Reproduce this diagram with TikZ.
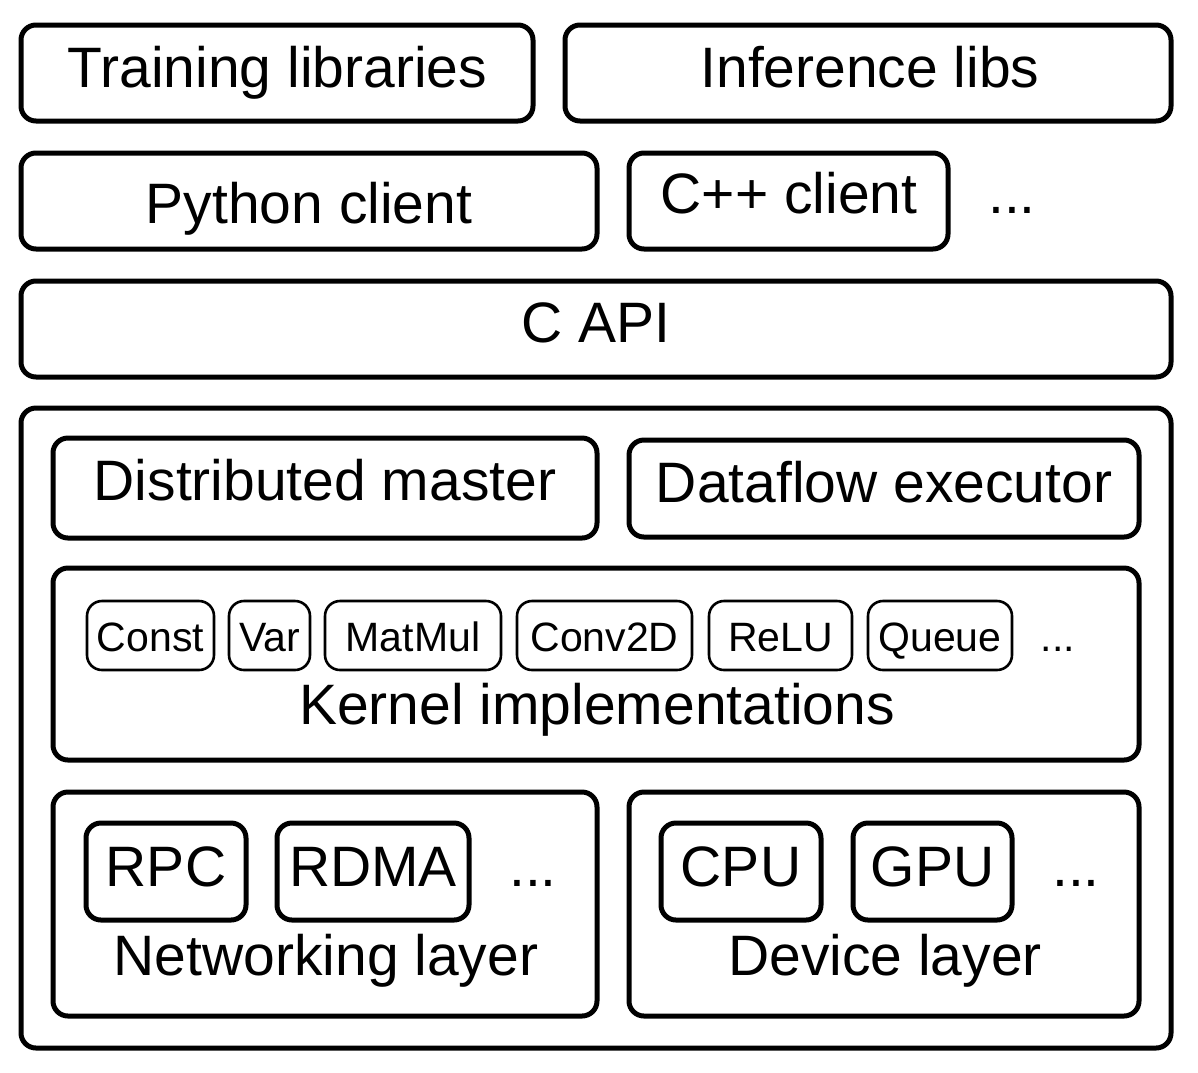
\documentclass[tikz,border=0pt]{standalone}
\usepackage{fontspec}
\setmainfont{Liberation Sans}
\begin{document}
\begin{tikzpicture}[x=1pt,y=-1pt,
  bx/.style={draw=black,line width=5pt,rounded corners=15pt,rectangle,inner sep=0pt,outer sep=0pt},
  kbx/.style={draw=black,line width=2.6pt,rounded corners=15pt,rectangle,inner sep=0pt,outer sep=0pt,minimum height=69pt},
  big/.style={anchor=base,inner sep=0pt,font=\fontsize{57}{68}\selectfont},
  small/.style={anchor=base,inner sep=0pt,font=\fontsize{41}{49}\selectfont}]
\useasboundingbox[fill=white] (0,0) rectangle (1198,1072);
% top rows
\node[bx,minimum width=512pt,minimum height=96pt] (train) at (277,73) {};
\node[bx,minimum width=606pt,minimum height=96pt] (infer) at (868,73) {};
\node[bx,minimum width=576pt,minimum height=96pt] (python) at (309,201) {};
\node[bx,minimum width=319pt,minimum height=96pt] (cpp) at (788.5,201) {};
\node[bx,minimum width=1150pt,minimum height=96pt] (capi) at (596,329) {};
\node[big] (ttrain) at (277.5,87) {Training libraries};
\node[big] (tinfer) at (870,87) {Inference libs};
\node[big] (tpython) at (309,223) {Python client};
\node[big] (tcpp) at (789,213) {C++ client};
\node[big] (tdots1) at (1012,213) {...};
\node[big] (tcapi) at (596,342) {C API};
% runtime
\node[bx,minimum width=1150pt,minimum height=640pt] (outer) at (596,728) {};
\node[bx,minimum width=544pt,minimum height=100pt] (dmaster) at (325,488) {};
\node[bx,minimum width=510pt,minimum height=97pt] (dexec) at (884,488.5) {};
\node[big] (tdmaster) at (325,500) {Distributed master};
\node[big] (tdexec) at (884,502) {Dataflow executor};
% kernels
\node[bx,minimum width=1086pt,minimum height=192pt] (kernel) at (596,664) {};
\node[kbx,minimum width=127pt] (kconst) at (150.5,635.5) {};
\node[kbx,minimum width=81pt] (kvar) at (269.5,635.5) {};
\node[kbx,minimum width=176pt] (kmatmul) at (413,635.5) {};
\node[kbx,minimum width=175pt] (kconv) at (604.5,635.5) {};
\node[kbx,minimum width=143pt] (krelu) at (780.5,635.5) {};
\node[kbx,minimum width=144pt] (kqueue) at (940,635.5) {};
\node[small] (tconst) at (150.5,651) {Const};
\node[small] (tvar) at (269.5,651) {Var};
\node[small] (tmatmul) at (413,651) {MatMul};
\node[small] (tconv) at (604.5,651) {Conv2D};
\node[small] (trelu) at (780.5,651) {ReLU};
\node[small] (tqueue) at (940,651) {Queue};
\node[small] (tdots2) at (1058,651) {...};
\node[big] (tkernel) at (597,724) {Kernel implementations};
% networking and devices
\node[bx,minimum width=544pt,minimum height=224pt] (net) at (325,904) {};
\node[bx,minimum width=510pt,minimum height=224pt] (dev) at (884,904) {};
\node[bx,minimum width=160pt,minimum height=97pt] (rpc) at (166,871.5) {};
\node[bx,minimum width=192pt,minimum height=97pt] (rdma) at (373,871.5) {};
\node[bx,minimum width=160pt,minimum height=97pt] (cpu) at (741,871.5) {};
\node[bx,minimum width=159pt,minimum height=97pt] (gpu) at (932.5,871.5) {};
\node[big] (trpc) at (166,886) {RPC};
\node[big] (trdma) at (373,886) {RDMA};
\node[big] (tdots3) at (533,886) {...};
\node[big] (tcpu) at (741,886) {CPU};
\node[big] (tgpu) at (932.5,886) {GPU};
\node[big] (tdots4) at (1076,886) {...};
\node[big] (tnet) at (326,975) {Networking layer};
\node[big] (tdev) at (885,975) {Device layer};
\end{tikzpicture}
\end{document}
